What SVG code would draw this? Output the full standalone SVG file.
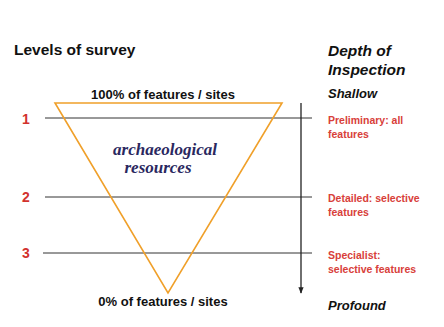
<svg xmlns="http://www.w3.org/2000/svg" width="444" height="327" viewBox="0 0 444 327">
  <defs>
    <style>
      .head { font-family: "Liberation Sans", Arial, sans-serif; font-weight: bold; font-size: 15.5px; fill: #111; }
      .headi { font-family: "Liberation Sans", Arial, sans-serif; font-weight: bold; font-style: italic; font-size: 15.5px; fill: #111; }
      .depth { font-family: "Liberation Sans", Arial, sans-serif; font-weight: bold; font-style: italic; font-size: 13px; fill: #111; }
      .pct { font-family: "Liberation Sans", Arial, sans-serif; font-weight: bold; font-size: 13px; fill: #111; text-anchor: middle; }
      .num { font-family: "Liberation Sans", Arial, sans-serif; font-weight: bold; font-size: 14px; fill: #d2322d; }
      .desc { font-family: "Liberation Sans", Arial, sans-serif; font-weight: bold; font-size: 10.5px; fill: #d8403a; }
      .res { font-family: "Liberation Serif", "Times New Roman", serif; font-weight: bold; font-style: italic; font-size: 17px; fill: #2a2860; text-anchor: middle; }
      .level { stroke: #333; stroke-width: 1; }
    </style>
    <marker id="arrowhead" viewBox="0 0 10 10" refX="9" refY="5" markerWidth="5" markerHeight="6" orient="auto">
      <path d="M0,1 L10,5 L0,9 z" fill="#222"/>
    </marker>
  </defs>
  <rect width="444" height="327" fill="#ffffff"/>

  <!-- headings -->
  <text class="head" x="14" y="55">Levels of survey</text>
  <text class="headi" x="328" y="56">Depth of</text>
  <text class="headi" x="328" y="75">Inspection</text>

  <!-- level lines -->
  <g id="levels">
    <line class="level" x1="45" y1="118" x2="312" y2="118"/>
    <line class="level" x1="45" y1="197" x2="312" y2="197"/>
    <line class="level" x1="43" y1="253" x2="312" y2="253"/>
  </g>

  <!-- inverted triangle of resources -->
  <g id="resources">
    <polygon points="55,103 282,103 168,293" fill="none" stroke="#f0a02a" stroke-width="1.6" stroke-linejoin="miter"/>
    <text class="res" x="165" y="155">archaeological</text>
    <text class="res" x="158" y="173">resources</text>
  </g>

  <g id="top-label">
    <text class="pct" x="163" y="99">100% of features / sites</text>
  </g>
  <g id="bottom-label">
    <text class="pct" x="163" y="306">0% of features / sites</text>
  </g>

  <!-- depth axis -->
  <g id="connectors">
    <line x1="301" y1="103" x2="301" y2="293" stroke="#222" stroke-width="1.3" marker-end="url(#arrowhead)"/>
  </g>

  <g id="level-1">
    <text class="num" x="22" y="124">1</text>
    <text class="desc" x="328" y="124">Preliminary: all</text>
    <text class="desc" x="328" y="138">features</text>
  </g>
  <g id="level-2">
    <text class="num" x="22" y="202">2</text>
    <text class="desc" x="328" y="202">Detailed: selective</text>
    <text class="desc" x="328" y="216">features</text>
  </g>
  <g id="level-3">
    <text class="num" x="22" y="258">3</text>
    <text class="desc" x="328" y="259">Specialist:</text>
    <text class="desc" x="328" y="273">selective features</text>
  </g>

  <g id="depth-labels">
    <text class="depth" x="328" y="98">Shallow</text>
    <text class="depth" x="328" y="310">Profound</text>
  </g>
</svg>
